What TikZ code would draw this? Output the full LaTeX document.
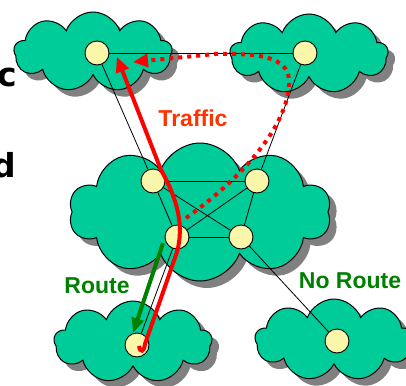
\documentclass[tikz,border=0pt]{standalone}
\usepackage{fontspec}
\setmainfont{Liberation Sans}
\newfontfamily\letterafont{DejaVu Sans}
\usetikzlibrary{shapes.symbols,shadows,arrows.meta}

\definecolor{verdenuvola}{RGB}{0,204,153}
\definecolor{giallonodo}{RGB}{250,246,170}
\definecolor{rossotesto}{RGB}{255,51,0}
\definecolor{verderotta}{RGB}{0,128,0}

\tikzset{
  nuvola/.style={cloud, cloud puffs=9, cloud puff arc=140, cloud ignores aspect,
    draw=black, line width=1pt, fill=verdenuvola,
    drop shadow={shadow xshift=7pt, shadow yshift=-7pt, fill=black!50, opacity=1}},
  router/.style={circle, draw=black, line width=0.9pt, fill=giallonodo,
    minimum size=24pt, inner sep=0pt},
  collegamento/.style={draw=black, line width=0.8pt},
  traffico/.style={draw=red, line width=4pt, -{Triangle[length=15pt,width=13pt]}},
  tratteggio/.style={traffico, dash pattern=on 4pt off 5pt},
  rotta/.style={draw=verderotta, line width=4pt, -{Triangle[length=15pt,width=12pt]}},
  etichetta/.style={font=\fontsize{23}{27}\selectfont\bfseries}
}

\begin{document}
\begin{tikzpicture}[x=1pt, y=-1pt]
        \useasboundingbox (0,0) rectangle (406,385);

        % Lettere tagliate sul bordo sinistro
        \node[anchor=base east, inner sep=0pt, font=\letterafont\fontsize{33}{36}\selectfont\bfseries] (c_lettera) at (17,87) {c};
        \node[anchor=base east, inner sep=0pt, font=\letterafont\fontsize{33}{36}\selectfont\bfseries] (d_lettera) at (16,177) {d};

        % Nuvole (reti)
        \node[nuvola, minimum width=158pt, minimum height=80pt] (nuvola_tl) at (93,52) {};
        \node[nuvola, minimum width=158pt, minimum height=80pt] (nuvola_tr) at (309,54) {};
        \node[nuvola, cloud puffs=10, minimum width=262pt, minimum height=138pt] (nuvola_m) at (200,212) {};
        \node[nuvola, minimum width=158pt, minimum height=82pt] (nuvola_bl) at (133,342) {};
        \node[nuvola, minimum width=158pt, minimum height=82pt] (nuvola_br) at (334,340) {};

        % Router
        \node[router] (tl_node) at (97,53) {};
        \node[router] (tr_node) at (305,53) {};
        \node[router] (m1_node) at (153,181) {};
        \node[router] (m2_node) at (257,181) {};
        \node[router] (m3_node) at (177,237) {};
        \node[router] (m4_node) at (241,237) {};
        \node[router] (bl_node) at (137,345) {};
        \node[router] (br_node) at (337,341) {};

        % Collegamenti
        \draw[collegamento] (tl_node) -- (tr_node);
        \draw[collegamento] (tl_node) -- (m1_node);
        \draw[collegamento] (tr_node) -- (m2_node);
        \draw[collegamento] (m1_node) -- (m2_node);
        \draw[collegamento] (m1_node) -- (m3_node);
        \draw[collegamento] (m1_node) -- (m4_node);
        \draw[collegamento] (m2_node) -- (m3_node);
        \draw[collegamento] (m2_node) -- (m4_node);
        \draw[collegamento] (m3_node) -- (m4_node);
        \draw[collegamento] (m3_node) -- (bl_node);
        \draw[collegamento] (m4_node) -- (br_node);

        % Punti delle frecce
        \coordinate (traffico_inizio) at (139,346);
        \coordinate (traffico_fine) at (117,57);
        \coordinate (ritorno_inizio) at (186,218);
        \coordinate (ritorno_fine) at (133,62);
        \coordinate (rotta_inizio) at (163,243);
        \coordinate (rotta_fine) at (133,333);

        \draw[rotta] (rotta_inizio) -- (rotta_fine);
        \draw[traffico] (traffico_inizio) .. controls (140,353) and (144,352) .. (145,344)
            -- (177,252) .. controls (184,226) and (178,200) .. (161,170) -- (traffico_fine);
        \draw[tratteggio] (ritorno_inizio) .. controls (245,176) and (287,125) .. (289,85)
            .. controls (291,58) and (265,53) .. (215,54) -- (ritorno_fine);

        % Etichette
        \node[etichetta, text=rossotesto] (traffic_label) at (193,118) {Traffic};
        \node[etichetta, text=verderotta] (route_label) at (97,286) {Route};
        \node[etichetta, text=verderotta] (noroute_label) at (350,281) {No Route};
    \end{tikzpicture}
\end{document}
